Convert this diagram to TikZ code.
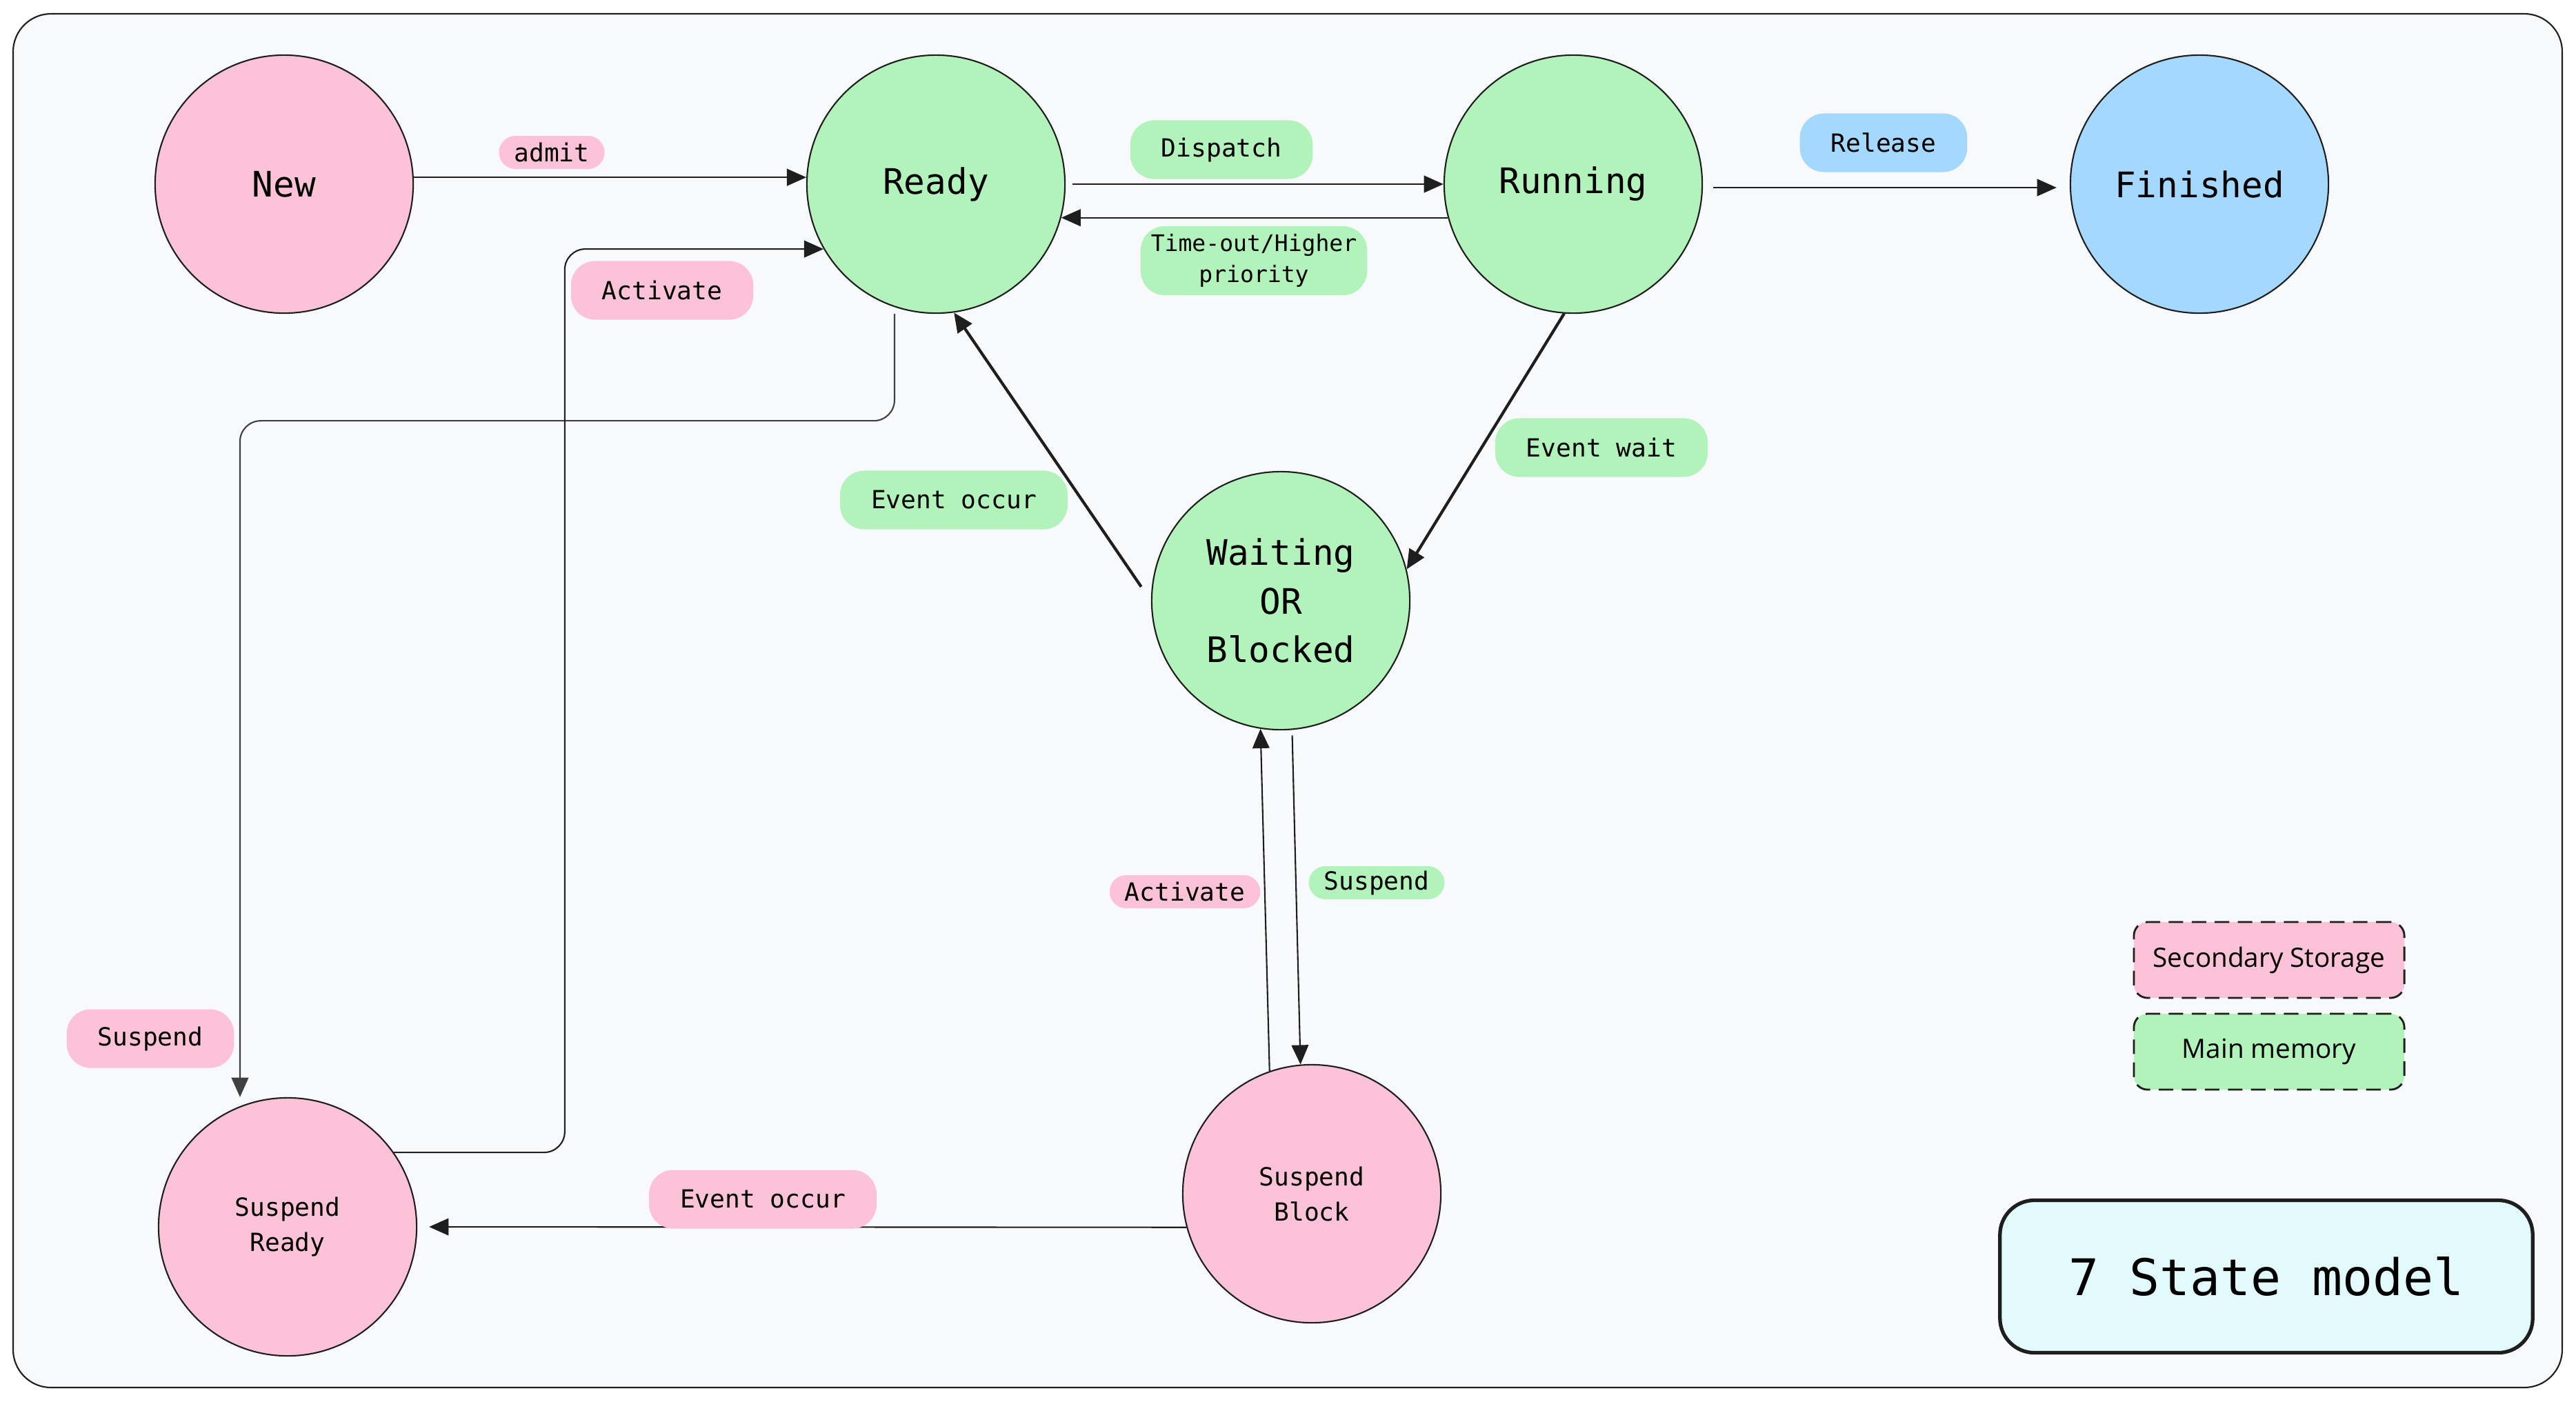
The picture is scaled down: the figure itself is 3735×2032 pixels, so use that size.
\documentclass[tikz,border=0pt]{standalone}
\usepackage{fontspec}
\usetikzlibrary{arrows.meta,positioning,calc}
\newfontfamily\handmono{DejaVu Sans Mono}
\newfontfamily\legendfont{Open Sans}
\definecolor{pinkfill}{HTML}{FCC2D7}
\definecolor{greenfill}{HTML}{B2F2BB}
\definecolor{bluefill}{HTML}{A5D8FF}
\definecolor{cyanfill}{HTML}{E3FAFC}
\definecolor{canvas}{HTML}{F8F9FA}
\definecolor{ink}{HTML}{1E1E1E}

\begin{document}
\begin{tikzpicture}[
		x=0.01cm,y=-0.01cm,
		state/.style={circle,draw=ink,line width=0.6pt,minimum size=3.74cm,inner sep=0,
			align=center,font=\handmono\fontsize{14.5}{20}\selectfont},
		pstate/.style={state,fill=pinkfill},
		gstate/.style={state,fill=greenfill},
		bstate/.style={state,fill=bluefill},
		sstate/.style={pstate,font=\handmono\fontsize{10.3}{14.5}\selectfont},
		blob/.style={fill=#1,rounded corners=3.5mm,inner xsep=4.5mm,inner ysep=0,
			minimum height=0.85cm,align=center,font=\handmono\fontsize{10.3}{13}\selectfont},
		smallblob/.style={blob=#1,rounded corners=2.4mm,inner xsep=2.2mm,minimum height=0.48cm},
		trans/.style={draw=ink,line width=0.6pt,-{Triangle[length=8pt,width=7pt]}},
		thicktrans/.style={trans,line width=1.2pt},
		%
		legend/.style={draw=ink,dash pattern=on 6pt off 3.5pt,line width=0.8pt,rounded corners=2mm,
			minimum width=3.92cm,minimum height=1.1cm,font=\legendfont\fontsize{11}{13}\selectfont},
		titlebox/.style={draw=ink,line width=1.5pt,fill=cyanfill,rounded corners=5mm,
			minimum width=7.72cm,minimum height=2.21cm,font=\handmono\fontsize{20.8}{24}\selectfont}
	]
	\useasboundingbox (0,0) rectangle (3735,2032);
	\path[draw=ink,line width=0.6pt,fill=canvas,rounded corners=5.5mm] (19,20) rectangle (3715,2012);
	%
	% states
	\node[pstate] (New)          at (412,267)   {New};
	\node[gstate] (Ready)        at (1357,267)  {Ready};
	\node[gstate] (Running)      at (2281,267)  {Running};
	\node[bstate] (Finished)     at (3189,267)  {Finished};
	\node[gstate] (Waiting)      at (1857,871)  {Waiting\\OR\\Blocked};
	\node[sstate] (SuspendReady) at (417,1779)  {Suspend\\Ready};
	\node[sstate] (SuspendBlock) at (1902,1731) {Suspend\\Block};
	%
	% transitions
	\draw[trans] (New.3) -- (Ready.177);
	\draw[trans,shorten <=0.1cm] (Ready.east) -- (Running.west);
	\draw[trans] (Running.195) -- (Ready.-15);
	\draw[trans,shorten <=0.15cm,shorten >=0.19cm] ([yshift=-0.05cm]Running.east) -- ([yshift=-0.05cm]Finished.west);
	\draw[thicktrans] (Running.-94) -- (Waiting.14);
	\draw[thicktrans] ([xshift=-0.16cm,yshift=-0.06cm]Waiting.172) -- (Ready.-82);
	\draw[trans,draw=ink!85,rounded corners=3mm] ([xshift=-0.6cm]Ready.south) -- ++(0,155) -| ([xshift=-0.69cm]SuspendReady.north);
	\draw[trans,rounded corners=3mm] (SuspendReady.35) -| ([xshift=-3.75cm]Ready.210) -- (Ready.210);
	\draw[trans,shorten <=0.08cm] (Waiting.-85) -- (SuspendBlock.95);
	\draw[trans] (SuspendBlock.109) -- (Waiting.-99);
	\draw[trans,shorten >=0.17cm] (SuspendBlock.195) -- (SuspendReady.east);
	%
	% labels
	\node[smallblob=pinkfill] (lbl_admit)       at (800,221)   {admit};
	\node[blob=pinkfill]      (lbl_activate)    at (960,421)   {Activate};
	\node[blob=greenfill]     (lbl_dispatch)    at (1771,217)  {Dispatch};
	\node[blob=greenfill,inner xsep=1.5mm,minimum height=1cm,font=\handmono\fontsize{9.4}{13}\selectfont]
	                          (lbl_timeout)     at (1818,378)  {Time-out/Higher\\priority};
	\node[blob=bluefill]      (lbl_release)     at (2731,207)  {Release};
	\node[blob=greenfill]     (lbl_eventwait)   at (2322,649)  {Event wait};
	\node[blob=greenfill]     (lbl_eventoccur)  at (1383,725)  {Event occur};
	\node[blob=pinkfill]      (lbl_suspend)     at (218,1506)  {Suspend};
	\node[blob=pinkfill]      (lbl_eventoccur2) at (1106,1739) {Event occur};
	\node[smallblob=pinkfill] (lbl_activate2)   at (1718,1293) {Activate};
	\node[smallblob=greenfill](lbl_suspend2)    at (1996,1280) {Suspend};
	%
	% legend
	\node[legend,fill=pinkfill]  (Secondary) at (3290,1392) {Secondary Storage};
	\node[legend,fill=greenfill] (MainMem)   at (3290,1525) {Main memory};
	\node[titlebox]              (Title)     at (3286,1851) {7 State model};
\end{tikzpicture}
\end{document}
